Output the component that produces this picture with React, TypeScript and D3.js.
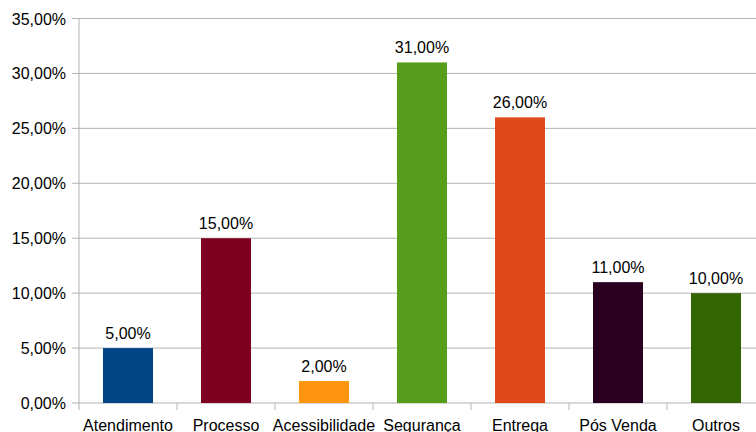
import React from "react";
import * as d3 from "d3";

const categories = ["Atendimento", "Processo", "Acessibilidade", "Segurança", "Entrega", "Pós Venda", "Outros"];
const values = [0.05, 0.15, 0.02, 0.31, 0.26, 0.11, 0.10];
const colors = ["#004586", "#7e0021", "#ff950e", "#579d1c", "#e0491a", "#2a0020", "#336600"];
const yTicks = [0, 0.05, 0.1, 0.15, 0.2, 0.25, 0.3, 0.35];

const W = 756;
const H = 432;
const left = 79;
const right = 765;
const top = 18.5;
const bottom = 403;
const font = "'Liberation Sans', Arial, sans-serif";

const fmt = (v: number) => (v * 100).toFixed(2).replace(".", ",") + "%";

export default function App() {
  const x = d3
    .scaleBand<string>()
    .domain(categories)
    .range([left, right])
    .paddingInner(48 / 98)
    .paddingOuter(24 / 98);
  const y = d3.scaleLinear().domain([0, 0.35]).range([bottom, top]);
  const step = x.step();
  const grid = "#b3b3b3";

  return (
    <svg
      width={W}
      height={H}
      style={{ position: "absolute", left: 0, top: 0, background: "#fff" }}
      fontFamily={font}
    >
      {yTicks.map((t) => (
        <g key={t}>
          <line x1={left - 7} x2={W} y1={y(t)} y2={y(t)} stroke={grid} strokeWidth={1} />
          <text x={66} y={y(t) + 6} textAnchor="end" fontSize={16} fill="#000">
            {fmt(t)}
          </text>
        </g>
      ))}
      <line x1={left} x2={left} y1={top} y2={bottom} stroke={grid} strokeWidth={1} />
      {d3.range(categories.length + 1).map((i) => (
        <line
          key={i}
          x1={left + i * step}
          x2={left + i * step}
          y1={bottom}
          y2={bottom + 7}
          stroke={grid}
          strokeWidth={1}
        />
      ))}
      {categories.map((c, i) => {
        const bx = x(c)!;
        const cx = bx + x.bandwidth() / 2;
        return (
          <g key={c}>
            <rect x={bx} y={y(values[i])} width={x.bandwidth()} height={bottom - y(values[i])} fill={colors[i]} />
            <text x={cx} y={y(values[i]) - 9} textAnchor="middle" fontSize={16} fill="#000">
              {fmt(values[i])}
            </text>
            <text x={cx} y={431} textAnchor="middle" fontSize={16} fill="#000">
              {c}
            </text>
          </g>
        );
      })}
    </svg>
  );
}
